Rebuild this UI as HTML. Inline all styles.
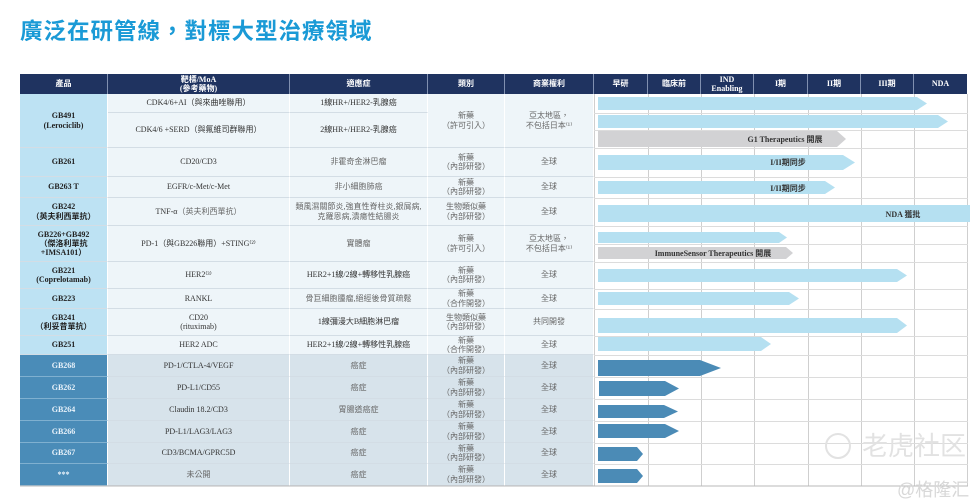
<!DOCTYPE html>
<html><head><meta charset="utf-8"><style>
body{margin:0;background:#fff;width:980px;height:504px;position:relative;overflow:hidden;font-family:"Liberation Serif","Noto Sans CJK TC",serif;}
.t{position:absolute;left:20px;top:14px;font-family:"Liberation Sans","Noto Sans CJK TC",sans-serif;font-size:22.5px;font-weight:bold;color:#1a9ad6;letter-spacing:1px;}
.c{position:absolute;display:flex;align-items:center;justify-content:center;text-align:center;font-size:8px;line-height:1.15;box-sizing:border-box;border-right:1px solid #fff;border-bottom:1px solid #d3dde5;color:#333;}
.h{background:#1f3360;color:#fff;font-weight:bold;border-right:1px solid #8090b0;border-bottom:none}
.p{background:#bde2f3;font-weight:bold;color:#222}
.l{background:#eef5f9}
.dp{background:#4a8cb8;color:#e8f2fa;font-weight:bold;border-bottom:1px solid #7fb0d0}
.d{background:#d7e3eb}
.g{color:#666}
</style></head><body>
<div class="t">廣泛在研管線，對標大型治療領域</div>

<div class="c h" style="left:20px;top:74px;width:88px;height:20px">產品</div>
<div class="c h" style="left:108px;top:74px;width:182px;height:20px">靶標/MoA<br>(參考藥物)</div>
<div class="c h" style="left:290px;top:74px;width:138px;height:20px">適應症</div>
<div class="c h" style="left:428px;top:74px;width:77px;height:20px">類別</div>
<div class="c h" style="left:505px;top:74px;width:89px;height:20px">商業權利</div>
<div class="c h" style="left:594px;top:74px;width:54px;height:20px">早研</div>
<div class="c h" style="left:648px;top:74px;width:53px;height:20px">臨床前</div>
<div class="c h" style="left:701px;top:74px;width:53px;height:20px">IND<br>Enabling</div>
<div class="c h" style="left:754px;top:74px;width:54px;height:20px">I期</div>
<div class="c h" style="left:808px;top:74px;width:53px;height:20px">II期</div>
<div class="c h" style="left:861px;top:74px;width:53px;height:20px">III期</div>
<div class="c h" style="left:914px;top:74px;width:53px;height:20px;border-right:none">NDA</div>

<div class="c p" style="left:20px;top:94px;width:88px;height:54px">GB491<br>(Lerociclib)</div>
<div class="c l" style="left:108px;top:94px;width:182px;height:19px">CDK4/6+AI（與來曲唑聯用）</div>
<div class="c l" style="left:108px;top:113px;width:182px;height:35px">CDK4/6 +SERD（與氟維司群聯用）</div>
<div class="c l" style="left:290px;top:94px;width:138px;height:19px">1線HR+/HER2-乳腺癌</div>
<div class="c l" style="left:290px;top:113px;width:138px;height:35px">2線HR+/HER2-乳腺癌</div>
<div class="c l g" style="left:428px;top:94px;width:77px;height:54px">新藥<br>（許可引入）</div>
<div class="c l g" style="left:505px;top:94px;width:89px;height:54px">亞太地區，<br>不包括日本⁽¹⁾</div>

<div class="c p" style="left:20px;top:148px;width:88px;height:29px">GB261</div>
<div class="c l" style="left:108px;top:148px;width:182px;height:29px">CD20/CD3</div>
<div class="c l g" style="left:290px;top:148px;width:138px;height:29px">非霍奇金淋巴瘤</div>
<div class="c l g" style="left:428px;top:148px;width:77px;height:29px">新藥<br>（內部研發）</div>
<div class="c l g" style="left:505px;top:148px;width:89px;height:29px">全球</div>

<div class="c p" style="left:20px;top:177px;width:88px;height:21px">GB263 T</div>
<div class="c l" style="left:108px;top:177px;width:182px;height:21px">EGFR/c-Met/c-Met</div>
<div class="c l g" style="left:290px;top:177px;width:138px;height:21px">非小細胞肺癌</div>
<div class="c l g" style="left:428px;top:177px;width:77px;height:21px">新藥<br>（內部研發）</div>
<div class="c l g" style="left:505px;top:177px;width:89px;height:21px">全球</div>

<div class="c p" style="left:20px;top:198px;width:88px;height:28px">GB242<br>（英夫利西單抗）</div>
<div class="c l" style="left:108px;top:198px;width:182px;height:28px">TNF-α<br><span class="g">（英夫利西單抗）</span></div>
<div class="c l g" style="left:290px;top:198px;width:138px;height:28px">類風濕關節炎,強直性脊柱炎,銀屑病,<br>克羅恩病,潰瘍性結腸炎</div>
<div class="c l g" style="left:428px;top:198px;width:77px;height:28px">生物類似藥<br>（內部研發）</div>
<div class="c l g" style="left:505px;top:198px;width:89px;height:28px">全球</div>

<div class="c p" style="left:20px;top:226px;width:88px;height:36px">GB226+GB492<br>（傑洛利單抗<br>+IMSA101）</div>
<div class="c l" style="left:108px;top:226px;width:182px;height:36px">PD-1（與GB226聯用）+STING⁽²⁾</div>
<div class="c l g" style="left:290px;top:226px;width:138px;height:36px">實體瘤</div>
<div class="c l g" style="left:428px;top:226px;width:77px;height:36px">新藥<br>（許可引入）</div>
<div class="c l g" style="left:505px;top:226px;width:89px;height:36px">亞太地區，<br>不包括日本⁽¹⁾</div>

<div class="c p" style="left:20px;top:262px;width:88px;height:27px">GB221<br>(Coprelotamab)</div>
<div class="c l" style="left:108px;top:262px;width:182px;height:27px">HER2⁽³⁾</div>
<div class="c l" style="left:290px;top:262px;width:138px;height:27px">HER2+1線/2線+轉移性乳腺癌</div>
<div class="c l g" style="left:428px;top:262px;width:77px;height:27px">新藥<br>（內部研發）</div>
<div class="c l g" style="left:505px;top:262px;width:89px;height:27px">全球</div>

<div class="c p" style="left:20px;top:289px;width:88px;height:20px">GB223</div>
<div class="c l" style="left:108px;top:289px;width:182px;height:20px">RANKL</div>
<div class="c l g" style="left:290px;top:289px;width:138px;height:20px">骨巨細胞腫瘤,絕經後骨質疏鬆</div>
<div class="c l g" style="left:428px;top:289px;width:77px;height:20px">新藥<br>（合作開發）</div>
<div class="c l g" style="left:505px;top:289px;width:89px;height:20px">全球</div>

<div class="c p" style="left:20px;top:309px;width:88px;height:27px">GB241<br>（利妥昔單抗）</div>
<div class="c l" style="left:108px;top:309px;width:182px;height:27px">CD20<br>(rituximab)</div>
<div class="c l" style="left:290px;top:309px;width:138px;height:27px">1線彌漫大B細胞淋巴瘤</div>
<div class="c l g" style="left:428px;top:309px;width:77px;height:27px">生物類似藥<br>（內部研發）</div>
<div class="c l g" style="left:505px;top:309px;width:89px;height:27px">共同開發</div>

<div class="c p" style="left:20px;top:336px;width:88px;height:19px">GB251</div>
<div class="c l" style="left:108px;top:336px;width:182px;height:19px">HER2 ADC</div>
<div class="c l" style="left:290px;top:336px;width:138px;height:19px">HER2+1線/2線+轉移性乳腺癌</div>
<div class="c l g" style="left:428px;top:336px;width:77px;height:19px">新藥<br>（合作開發）</div>
<div class="c l g" style="left:505px;top:336px;width:89px;height:19px">全球</div>

<div class="c dp" style="left:20px;top:355px;width:88px;height:22px">GB268</div>
<div class="c d" style="left:108px;top:355px;width:182px;height:22px">PD-1/CTLA-4/VEGF</div>
<div class="c d g" style="left:290px;top:355px;width:138px;height:22px">癌症</div>
<div class="c d g" style="left:428px;top:355px;width:77px;height:22px">新藥<br>（內部研發）</div>
<div class="c d g" style="left:505px;top:355px;width:89px;height:22px">全球</div>

<div class="c dp" style="left:20px;top:377px;width:88px;height:22px">GB262</div>
<div class="c d" style="left:108px;top:377px;width:182px;height:22px">PD-L1/CD55</div>
<div class="c d g" style="left:290px;top:377px;width:138px;height:22px">癌症</div>
<div class="c d g" style="left:428px;top:377px;width:77px;height:22px">新藥<br>（內部研發）</div>
<div class="c d g" style="left:505px;top:377px;width:89px;height:22px">全球</div>

<div class="c dp" style="left:20px;top:399px;width:88px;height:22px">GB264</div>
<div class="c d" style="left:108px;top:399px;width:182px;height:22px">Claudin 18.2/CD3</div>
<div class="c d g" style="left:290px;top:399px;width:138px;height:22px">胃腸道癌症</div>
<div class="c d g" style="left:428px;top:399px;width:77px;height:22px">新藥<br>（內部研發）</div>
<div class="c d g" style="left:505px;top:399px;width:89px;height:22px">全球</div>

<div class="c dp" style="left:20px;top:421px;width:88px;height:22px">GB266</div>
<div class="c d" style="left:108px;top:421px;width:182px;height:22px">PD-L1/LAG3/LAG3</div>
<div class="c d g" style="left:290px;top:421px;width:138px;height:22px">癌症</div>
<div class="c d g" style="left:428px;top:421px;width:77px;height:22px">新藥<br>（內部研發）</div>
<div class="c d g" style="left:505px;top:421px;width:89px;height:22px">全球</div>

<div class="c dp" style="left:20px;top:443px;width:88px;height:21px">GB267</div>
<div class="c d" style="left:108px;top:443px;width:182px;height:21px">CD3/BCMA/GPRC5D</div>
<div class="c d g" style="left:290px;top:443px;width:138px;height:21px">癌症</div>
<div class="c d g" style="left:428px;top:443px;width:77px;height:21px">新藥<br>（內部研發）</div>
<div class="c d g" style="left:505px;top:443px;width:89px;height:21px">全球</div>

<div class="c dp" style="left:20px;top:464px;width:88px;height:22px">***</div>
<div class="c d g" style="left:108px;top:464px;width:182px;height:22px">未公開</div>
<div class="c d g" style="left:290px;top:464px;width:138px;height:22px">癌症</div>
<div class="c d g" style="left:428px;top:464px;width:77px;height:22px">新藥<br>（內部研發）</div>
<div class="c d g" style="left:505px;top:464px;width:89px;height:22px">全球</div>

<svg style="position:absolute;left:0;top:0" width="980" height="504">
<g stroke="#cfcfcf" stroke-width="1">
<line x1="594.5" y1="94" x2="594.5" y2="486"/>
<line x1="648.5" y1="94" x2="648.5" y2="486"/>
<line x1="701.5" y1="94" x2="701.5" y2="486"/>
<line x1="754.5" y1="94" x2="754.5" y2="486"/>
<line x1="808.5" y1="94" x2="808.5" y2="486"/>
<line x1="861.5" y1="94" x2="861.5" y2="486"/>
<line x1="914.5" y1="94" x2="914.5" y2="486"/>
<line x1="967.5" y1="94" x2="967.5" y2="486"/>
<g stroke="#dcdcdc">
<line x1="594" y1="113.5" x2="968" y2="113.5"/><line x1="594" y1="130.5" x2="968" y2="130.5"/>
<line x1="594" y1="148.5" x2="968" y2="148.5"/><line x1="594" y1="177.5" x2="968" y2="177.5"/>
<line x1="594" y1="198.5" x2="968" y2="198.5"/><line x1="594" y1="226.5" x2="968" y2="226.5"/>
<line x1="594" y1="244.5" x2="968" y2="244.5"/><line x1="594" y1="262.5" x2="968" y2="262.5"/>
<line x1="594" y1="289.5" x2="968" y2="289.5"/><line x1="594" y1="309.5" x2="968" y2="309.5"/>
<line x1="594" y1="336.5" x2="968" y2="336.5"/><line x1="594" y1="355.5" x2="968" y2="355.5"/>
<line x1="594" y1="377.5" x2="968" y2="377.5"/><line x1="594" y1="399.5" x2="968" y2="399.5"/>
<line x1="594" y1="421.5" x2="968" y2="421.5"/><line x1="594" y1="443.5" x2="968" y2="443.5"/>
<line x1="594" y1="464.5" x2="968" y2="464.5"/>
</g>
<line x1="20" y1="486" x2="968" y2="486" stroke="#b8b8b8"/>
</g>
<g fill="#b5e0f1">
<polygon points="598,97 917,97 927,103.5 917,110 598,110"/>
<polygon points="598,115 938,115 948,121.5 938,128 598,128"/>
<polygon points="598,155 843,155 855,162.5 843,170 598,170"/>
<polygon points="598,181 825,181 835,187.5 825,194 598,194"/>
<polygon points="598,205 970,205 970,222 598,222"/>
<polygon points="598,232 779,232 787,237.5 779,243 598,243"/>
<polygon points="598,269 897,269 907,275.5 897,282 598,282"/>
<polygon points="598,292 789,292 799,298.5 789,305 598,305"/>
<polygon points="598,318 897,318 907,325.5 897,333 598,333"/>
<polygon points="598,337 761,337 771,344 761,351 598,351"/>
</g>
<g fill="#d2d2d4">
<polygon points="598,131 837,131 846,139 837,147 598,147"/>
<polygon points="598,247 786,247 793,253 786,259 598,259"/>
</g>
<g fill="#4b8bb6">
<polygon points="598,360 700,360 721,368 700,376 598,376"/>
<polygon points="599,381 665,381 679,388.5 665,396 599,396"/>
<polygon points="598,405 664,405 678,411.5 664,418 598,418"/>
<polygon points="598,424 665,424 679,431 665,438 598,438"/>
<polygon points="598,447 637,447 643,454 637,461 598,461"/>
<polygon points="598,469 637,469 643,476 637,483 598,483"/>
</g>
<g font-family="Liberation Serif, Noto Sans CJK TC, serif" font-size="8" font-weight="bold" fill="#333" text-anchor="middle">
<text x="785" y="142">G1 Therapeutics 開展</text>
<text x="788" y="165">I/II期同步</text>
<text x="788" y="191">I/II期同步</text>
<text x="903" y="217">NDA 獲批</text>
<text x="713" y="256">ImmuneSensor Therapeutics 開展</text>
</g>
<g font-family="Liberation Sans, Noto Sans CJK SC, sans-serif" fill="#e2e2e2">
<circle cx="838" cy="446" r="12" fill="none" stroke="#e2e2e2" stroke-width="2"/>
<text x="862" y="455" font-size="26">老虎社区</text>
<text x="897" y="496" font-size="18" fill="#d8d8d8">@格隆汇</text>
</g>
</svg>
</body></html>
